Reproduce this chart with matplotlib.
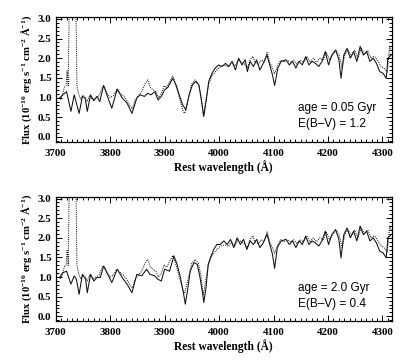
import matplotlib
matplotlib.use("Agg")
import matplotlib.pyplot as plt
from matplotlib.ticker import MultipleLocator

plt.rcParams['mathtext.fontset'] = 'custom'
plt.rcParams['mathtext.rm'] = 'Liberation Serif:bold'
plt.rcParams['mathtext.default'] = 'rm'

# Observed spectrum (dotted), shared by both panels
obs_wl = [3708, 3712, 3716, 3719, 3721, 3723, 3725, 3737, 3739, 3742, 3746, 3750, 3754, 3758,
          3762, 3768, 3774, 3780, 3786, 3790, 3795, 3800, 3806, 3812, 3818, 3824, 3830, 3836,
          3841, 3846, 3852, 3858, 3864, 3869, 3874, 3879, 3884, 3889, 3894, 3899, 3904, 3909,
          3915, 3920, 3925, 3930, 3934, 3937, 3944, 3950, 3956, 3962, 3967, 3971, 3976, 3981,
          3987, 3993, 3999, 4005, 4011, 4017, 4023, 4029, 4035, 4041, 4047, 4052, 4057, 4062,
          4066, 4072, 4078, 4083, 4088, 4093, 4098, 4102, 4107, 4113, 4119, 4125, 4131, 4137,
          4143, 4149, 4155, 4161, 4167, 4173, 4179, 4185, 4191, 4197, 4203, 4209, 4215, 4221,
          4226, 4231, 4237, 4243, 4249, 4255, 4261, 4267, 4273, 4279, 4285, 4291, 4297, 4303,
          4309, 4313, 4316]
obs_flux = [0.95, 1.05, 1.27, 1.30, 1.68, 1.30, 3.5, 3.5, 1.30, 1.10, 0.95, 1.05, 1.00, 0.90,
            1.05, 0.95, 1.00, 1.05, 1.28, 1.25, 1.10, 1.00, 1.05, 1.20, 1.12, 1.05, 0.95, 0.80,
            0.72, 0.95, 1.05, 1.15, 1.35, 1.45, 1.25, 1.20, 1.15, 1.00, 1.10, 1.30, 1.25, 1.40,
            1.55, 1.35, 1.10, 0.85, 0.65, 0.60, 1.00, 1.35, 1.45, 1.35, 1.00, 0.55, 0.95, 1.35,
            1.55, 1.65, 1.75, 1.80, 1.82, 1.78, 1.90, 1.80, 1.95, 1.90, 1.85, 1.75, 1.95, 2.05,
            1.90, 1.85, 1.95, 1.90, 2.15, 1.90, 1.75, 1.60, 1.80, 1.95, 1.90, 1.95, 1.90, 1.95,
            1.85, 1.95, 1.90, 2.05, 1.90, 2.00, 1.90, 2.00, 1.95, 2.15, 1.95, 2.10, 2.20, 2.05,
            1.75, 2.10, 2.20, 2.05, 2.20, 2.00, 2.25, 2.10, 2.20, 2.00, 2.05, 1.95, 1.80, 1.75,
            1.65, 2.30, 2.20]

# Model 1 (age = 0.05 Gyr, E(B-V) = 1.2)
m1_wl = [3707, 3713, 3720, 3728, 3734, 3738, 3743, 3749, 3754, 3758, 3764, 3770, 3776, 3781,
         3788, 3794, 3803, 3813, 3822, 3831, 3840, 3849, 3855, 3863, 3869, 3875, 3882, 3888,
         3894, 3900, 3906, 3915, 3921, 3927, 3933, 3939, 3945, 3951, 3957, 3963, 3967, 3972,
         3977, 3981, 3987, 3993, 3999, 4005, 4012, 4018, 4024, 4030, 4036, 4042, 4048, 4052,
         4057, 4063, 4069, 4075, 4081, 4088, 4093, 4098, 4102, 4108, 4114, 4123, 4129, 4135,
         4141, 4147, 4153, 4159, 4165, 4171, 4177, 4183, 4189, 4195, 4201, 4207, 4214, 4220,
         4224, 4229, 4235, 4241, 4247, 4253, 4259, 4265, 4271, 4277, 4283, 4289, 4295, 4301,
         4307, 4310, 4316]
m1_flux = [0.99, 1.07, 1.15, 0.65, 1.07, 0.86, 0.60, 1.03, 0.99, 0.65, 1.07, 0.92, 1.03, 0.90,
           1.31, 1.07, 0.73, 1.22, 0.99, 0.86, 0.60, 0.99, 1.07, 1.03, 1.11, 1.07, 1.15, 0.94,
           1.03, 1.20, 1.26, 1.49, 1.32, 1.07, 0.82, 0.69, 1.07, 1.32, 1.41, 1.32, 0.99, 0.52,
           0.99, 1.41, 1.62, 1.75, 1.83, 1.79, 1.87, 1.79, 1.92, 1.70, 2.00, 1.83, 1.96, 1.66,
           1.92, 1.79, 1.96, 1.70, 1.87, 2.08, 1.83, 1.58, 1.31, 1.75, 1.92, 1.96, 1.83, 1.92,
           1.75, 1.92, 1.83, 2.04, 1.83, 1.92, 1.87, 1.79, 1.92, 2.17, 1.83, 2.08, 2.21, 1.96,
           1.49, 2.08, 2.25, 2.00, 2.17, 1.92, 2.30, 2.08, 2.17, 1.92, 2.00, 1.87, 1.66, 1.62,
           1.49, 2.00, 2.08]

# Model 2 (age = 2.0 Gyr, E(B-V) = 0.4)
m2_wl = [3707, 3713, 3720, 3728, 3734, 3738, 3743, 3749, 3755, 3758, 3764, 3770, 3776, 3782,
         3788, 3794, 3803, 3813, 3822, 3831, 3840, 3849, 3858, 3867, 3873, 3882, 3888, 3894,
         3900, 3909, 3917, 3923, 3929, 3935, 3938, 3942, 3947, 3954, 3960, 3965, 3970, 3972,
         3976, 3980, 3984, 3990, 3996, 4002, 4009, 4015, 4021, 4027, 4033, 4039, 4045, 4051,
         4057, 4063, 4069, 4075, 4081, 4088, 4094, 4098, 4102, 4107, 4114, 4123, 4129, 4135,
         4141, 4147, 4153, 4159, 4165, 4171, 4177, 4183, 4189, 4195, 4201, 4207, 4214, 4220,
         4224, 4229, 4235, 4241, 4247, 4253, 4259, 4265, 4271, 4277, 4283, 4289, 4295, 4301,
         4307, 4310, 4316]
m2_flux = [0.99, 1.11, 1.15, 0.82, 1.03, 0.94, 0.56, 1.07, 0.94, 0.60, 1.07, 0.90, 0.99, 0.99,
           1.28, 1.11, 0.86, 1.20, 0.99, 0.82, 0.60, 1.07, 1.03, 1.20, 1.07, 1.03, 0.94, 0.90,
           1.20, 1.15, 1.54, 1.32, 0.99, 0.56, 0.31, 0.65, 1.15, 1.37, 1.32, 0.99, 0.56, 0.35,
           0.73, 1.32, 1.49, 1.70, 1.83, 1.83, 1.92, 1.83, 1.96, 1.75, 2.00, 1.83, 1.96, 1.70,
           1.92, 1.83, 1.96, 1.75, 1.87, 2.09, 1.79, 1.58, 1.22, 1.75, 1.92, 1.96, 1.83, 1.92,
           1.75, 1.92, 1.83, 2.04, 1.83, 1.92, 1.87, 1.79, 1.92, 2.17, 1.83, 2.08, 2.21, 1.96,
           1.49, 2.08, 2.25, 2.00, 2.17, 1.92, 2.30, 2.08, 2.17, 1.92, 2.00, 1.87, 1.66, 1.62,
           1.49, 2.00, 2.08]

labels = [("age = 0.05 Gyr", "E(B\u2013V) = 1.2"), ("age = 2.0 Gyr", "E(B\u2013V) = 0.4")]
xticks = [3700, 3800, 3900, 4000, 4100, 4200, 4300]
yticks = [0.0, 0.5, 1.0, 1.5, 2.0, 2.5, 3.0]

fig = plt.figure(figsize=(4.07, 3.62), dpi=100)
W, H = 407.0, 362.0
boxes = [(55.7, 17.3, 391.7, 141.7), (55.7, 197.0, 391.7, 321.0)]
models = [(m1_wl, m1_flux), (m2_wl, m2_flux)]

serif = 'Liberation Serif'
for (x0, y0, x1, y1), (mw, mf), (t1, t2) in zip(boxes, models, labels):
    ax = fig.add_axes([x0 / W, 1 - y1 / H, (x1 - x0) / W, (y1 - y0) / H])
    ax.plot(obs_wl, obs_flux, color='black', lw=0.7, ls=(0, (1, 1.2)))
    ax.plot(mw, mf, color='#111111', lw=0.75)
    ax.set_xlim(3708, 4317)
    ax.set_ylim(-0.12, 3.04)
    ax.set_xticks(xticks)
    ax.set_yticks(yticks)
    ax.set_xticklabels([str(v) for v in xticks], fontfamily=serif, fontweight='bold', fontsize=7.8)
    ax.set_yticklabels(['%.1f' % v for v in yticks], fontfamily=serif, fontweight='bold', fontsize=7.8)
    ax.xaxis.set_minor_locator(MultipleLocator(10))
    ax.yaxis.set_minor_locator(MultipleLocator(0.1))
    ax.tick_params(which='both', direction='in', top=True, right=True, width=0.7)
    ax.tick_params(axis='x', which='major', pad=5)
    ax.tick_params(axis='y', which='major', pad=3)
    ax.tick_params(which='major', length=4)
    ax.tick_params(which='minor', length=2)
    for s in ax.spines.values():
        s.set_linewidth(0.9)
    ax.set_xlabel('Rest wavelength (\u00c5)', fontfamily=serif, fontweight='bold', fontsize=8.3, labelpad=1.5)
    ax.set_ylabel('Flux (10$^{-16}$ erg s$^{-1}$ cm$^{-2}$ \u00c5$^{-1}$)', fontfamily=serif,
                  fontweight='bold', fontsize=7.7, labelpad=3)
    ax.text(0.72, 0.27, t1, transform=ax.transAxes, fontfamily='Liberation Sans', fontsize=8.5,
            va='center', ha='left')
    ax.text(0.72, 0.14, t2, transform=ax.transAxes, fontfamily='Liberation Sans', fontsize=8.5,
            va='center', ha='left')

fig.savefig('out.png', dpi=100)
